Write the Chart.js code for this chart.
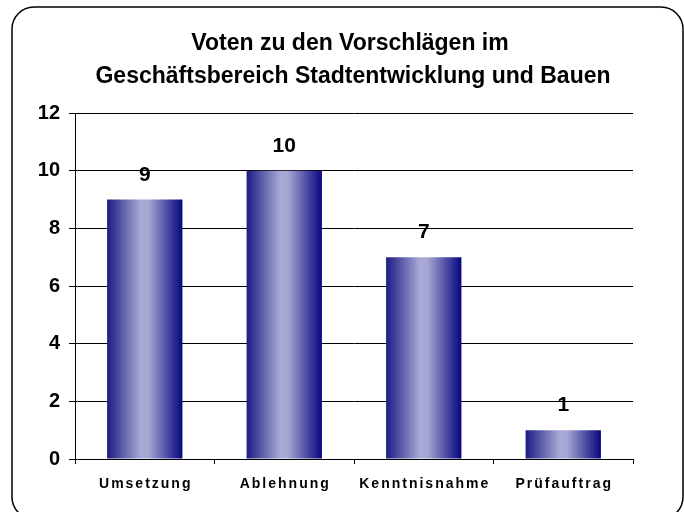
<!DOCTYPE html>
<html>
<head>
<meta charset="utf-8">
<script src="https://cdn.jsdelivr.net/npm/chart.js@4"></script>
<style>
  html, body { margin: 0; padding: 0; background: #fff; }
  #wrap { width: 684px; height: 512px; }
</style>
</head>
<body>
<div id="wrap"><canvas id="my-chart" width="684" height="512"></canvas></div>
<script>
'use strict';

// DATA

let titleLines = ['Voten zu den Vorschlägen im', 'Geschäftsbereich Stadtentwicklung und Bauen'];
let categories = ['Umsetzung', 'Ablehnung', 'Kenntnisnahme', 'Prüfauftrag'];
let votes = [9, 10, 7, 1];
let yTicks = [0, 2, 4, 6, 8, 10, 12];

const FONT = '"Liberation Sans", Arial, sans-serif';

// PLUGINS

// rounded frame and the two title lines
let framePlugin = {
  id: 'frame',
  beforeDraw(chart) {
    let c = chart.ctx;
    c.save();
    c.fillStyle = '#fff';
    c.fillRect(0, 0, chart.width, chart.height);
    c.strokeStyle = '#000';
    c.lineWidth = 1.5;
    c.beginPath();
    c.roundRect(12, 7, 671, 512, 22);
    c.stroke();
    c.fillStyle = '#000';
    c.font = 'bold 23px ' + FONT;
    c.textAlign = 'center';
    c.textBaseline = 'alphabetic';
    c.fillText(titleLines[0], 350, 50);
    c.fillText(titleLines[1], 353, 83);
    c.restore();
  }
};

// horizontal gradient on every bar
let gradientPlugin = {
  id: 'barGradient',
  beforeDatasetsDraw(chart) {
    let c = chart.ctx;
    let meta = chart.getDatasetMeta(0);
    meta.data.forEach((bar) => {
      let left = bar.x - bar.width / 2;
      let right = bar.x + bar.width / 2;
      let g = c.createLinearGradient(left, 0, right, 0);
      g.addColorStop(0, '#1c1c84');
      g.addColorStop(0.45, '#a9a9d6');
      g.addColorStop(0.55, '#a6a6d3');
      g.addColorStop(1, '#06067e');
      bar.options.backgroundColor = g;
    });
  }
};

// value above each bar, spaced category labels below the axis
let labelPlugin = {
  id: 'labels',
  afterDatasetsDraw(chart) {
    let c = chart.ctx;
    let meta = chart.getDatasetMeta(0);
    c.save();
    c.fillStyle = '#000';
    c.font = 'bold 21px ' + FONT;
    c.textAlign = 'center';
    c.textBaseline = 'alphabetic';
    meta.data.forEach((bar, i) => {
      c.fillText(String(votes[i]), bar.x, bar.y - 19);
    });
    c.restore();
  },
  afterDraw(chart) {
    let c = chart.ctx;
    let xScale = chart.scales.x;
    c.save();
    c.fillStyle = '#000';
    c.font = 'bold 14px ' + FONT;
    c.letterSpacing = '2px';
    c.textAlign = 'center';
    c.textBaseline = 'alphabetic';
    categories.forEach((name, i) => {
      c.fillText(name, xScale.getPixelForValue(i) + 1, chart.chartArea.bottom + 29);
    });
    c.restore();
  }
};

// CHART

let ctx = document.getElementById('my-chart').getContext('2d');

let chartObj = {
  type: 'bar',
  data: {
    labels: categories,
    datasets: [{
      data: votes,
      backgroundColor: () => '#3a3a98',
      borderWidth: 0,
      barPercentage: 0.54,
      categoryPercentage: 1
    }]
  },
  options: {
    responsive: false,
    animation: false,
    layout: {
      padding: { left: 20, right: 51, top: 113, bottom: 48 }
    },
    plugins: {
      legend: { display: false },
      title: { display: false },
      tooltip: { enabled: false }
    },
    scales: {
      x: {
        offset: true,
        grid: {
          display: true,
          offset: true,
          drawOnChartArea: false,
          drawTicks: true,
          tickLength: 5,
          color: '#000'
        },
        border: { display: true, color: '#000', width: 1 },
        ticks: { display: false },
        afterFit(scale) { scale.height = 5; }
      },
      y: {
        min: 0,
        max: 12,
        afterBuildTicks(scale) {
          scale.ticks = yTicks.map((v) => ({ value: v }));
        },
        grid: {
          color: '#000',
          lineWidth: 1,
          drawTicks: true,
          tickLength: 6
        },
        border: { display: true, color: '#000', width: 1 },
        ticks: {
          color: '#000',
          padding: 9,
          font: { family: FONT, size: 20, weight: 'bold' }
        },
        afterFit(scale) { scale.width = 55; }
      }
    }
  },
  plugins: [framePlugin, gradientPlugin, labelPlugin]
};

new Chart(ctx, chartObj);
</script>
</body>
</html>
